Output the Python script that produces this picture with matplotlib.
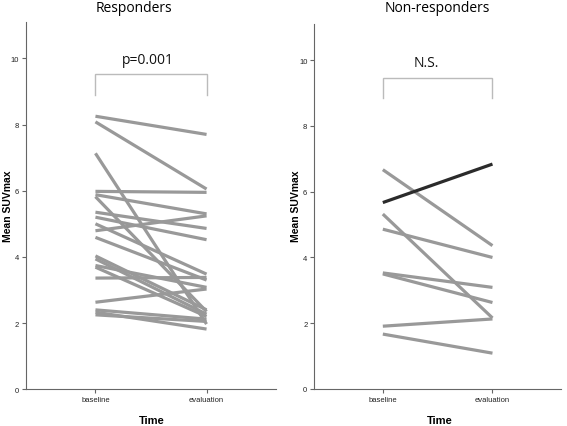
import matplotlib
matplotlib.use('Agg')
import matplotlib.pyplot as plt

times = ['baseline', 'evaluation']

resp_baseline = [8.25, 8.08, 7.13, 5.98, 5.88, 5.82, 5.35, 5.20, 5.00, 4.79,
                 4.59, 4.03, 3.94, 3.74, 3.69, 3.36, 2.63, 2.40, 2.33, 2.25]
resp_evaluation = [7.70, 6.05, 1.97, 5.95, 5.30, 2.35, 4.86, 4.52, 3.48, 5.24,
                   3.30, 2.40, 2.27, 3.08, 2.20, 3.38, 3.03, 2.12, 1.82, 2.05]

nonresp_baseline = [5.67, 6.67, 5.32, 4.86, 3.53, 3.50, 1.91, 1.67]
nonresp_evaluation = [6.84, 4.36, 2.16, 4.00, 3.09, 2.63, 2.13, 1.09]
nonresp_colours = ['#2b2b2b', '#999999', '#999999', '#999999',
                   '#999999', '#999999', '#999999', '#999999']

sans = ['Liberation Sans', 'DejaVu Sans']

fig = plt.figure(figsize=(5.67, 4.27), dpi=100)
ax_l = fig.add_axes([26 / 567, 1 - 390.3 / 427, 250 / 567, 367.4 / 427])
ax_r = fig.add_axes([314.3 / 567, 1 - 390 / 427, 246.7 / 567, 365 / 427])


def style_axes(ax):
    x = [1, 2]
    ax.set_xlim(0.375, 2.625)
    ax.set_ylim(0, 11.1)
    ax.set_xticks(x)
    ax.set_xticklabels(times, family=sans, fontsize=5.5)
    ax.set_yticks([0, 2, 4, 6, 8, 10])
    ax.set_yticklabels(['0', '2', '4', '6', '8', '10'], family=sans, fontsize=5.5)
    for s in ['top', 'right']:
        ax.spines[s].set_visible(False)
    for s in ['left', 'bottom']:
        ax.spines[s].set_color('#666666')
        ax.spines[s].set_linewidth(0.8)
    ax.tick_params(direction='out', length=3, width=0.8, color='#666666',
                   labelcolor='#222222', pad=2)


def bracket(ax, y_top, y_bot, text, tx):
    ax.plot([1, 1, 2, 2], [y_bot, y_top, y_top, y_bot], color='#bbbbbb', lw=1,
            solid_joinstyle='miter')
    ax.text(tx, y_top + 0.45, text, ha='center', va='center', fontsize=10,
            family=['Open Sans', 'DejaVu Sans'], color='#111111')


for b, e in zip(resp_baseline, resp_evaluation):
    ax_l.plot([1, 2], [b, e], color='#999999', lw=2.3, solid_capstyle='butt')
style_axes(ax_l)
bracket(ax_l, 9.52, 8.9, 'p=0.001', 1.47)

for b, e, c in zip(nonresp_baseline, nonresp_evaluation, nonresp_colours):
    ax_r.plot([1, 2], [b, e], color=c, lw=2.3, solid_capstyle='butt',
              zorder=3 if c != '#999999' else 2)
style_axes(ax_r)
bracket(ax_r, 9.47, 8.85, 'N.S.', 1.4)

# titles, axis labels
for x, t in [(134, 'Responders'), (437.5, 'Non-responders')]:
    fig.text(x / 567, 1 - 9 / 427, t, ha='center', va='center',
             fontsize=10, family=['Open Sans', 'DejaVu Sans'])
for x in [151.5, 440]:
    fig.text(x / 567, 1 - 421 / 427, 'Time', ha='center', va='center',
             fontsize=8, fontweight='bold', family=sans)
for x in [8, 296]:
    fig.text(x / 567, 1 - 206 / 427, 'Mean SUVmax', ha='center', va='center',
             rotation=90, fontsize=7.5, fontweight='bold', family=sans)

fig.savefig('out.png', dpi=100)
